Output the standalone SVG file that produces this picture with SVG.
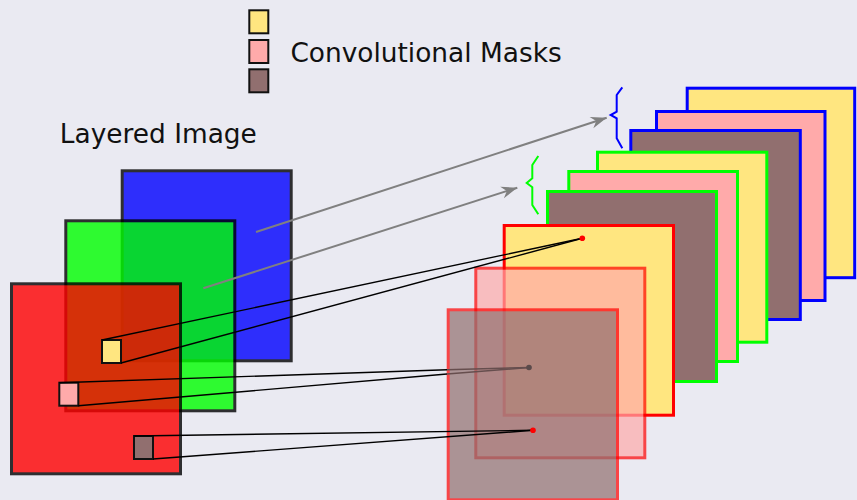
<svg xmlns="http://www.w3.org/2000/svg" width="857" height="500" viewBox="0 0 857 500">
  <defs>
    <style>
      .label { font-family: "DejaVu Sans", "Liberation Sans", sans-serif; font-size: 26.4px; fill: #111; }
      .layer { stroke: #000; stroke-width: 3; opacity: 0.8; }
      .mask { stroke: #111; stroke-width: 2; }
      .yellow { fill: #ffe680; }
      .pink { fill: #ffaaaa; }
      .brown { fill: #916f6f; }
      .sheet { stroke-width: 3; }
      .b { stroke: #0000ff; }
      .g { stroke: #00ff00; }
      .r { stroke: #ff0000; }
      .faded { opacity: 0.7; }
      .brace { fill: none; stroke-width: 2; }
      .arrow { fill: none; stroke: #808080; stroke-width: 2; marker-end: url(#head); }
      .link { fill: none; stroke: #000; stroke-width: 1.4; }
      .link-dim { fill: none; stroke: #664e4e; stroke-width: 1.4; }
    </style>
    <marker id="head" markerUnits="userSpaceOnUse" markerWidth="20" markerHeight="14" viewBox="-17 -7 18 14" refX="0" refY="0" orient="auto">
      <path d="M0,0 L-16,-6 L-11,0 L-16,6 Z" fill="#808080"/>
    </marker>
  </defs>

  <rect width="857" height="500" fill="#eaeaf2"/>

  <!-- legend -->
  <g id="legend">
    <rect class="mask yellow" x="249.3" y="10.3" width="19" height="23"/>
    <rect class="mask pink" x="249.3" y="40" width="19" height="23"/>
    <rect class="mask brown" x="249.3" y="69.3" width="19" height="23"/>
    <text class="label" x="290.4" y="61.5">Convolutional Masks</text>
  </g>

  <text id="title" class="label" x="59.8" y="143.3">Layered Image</text>

  <!-- input image, three colour layers -->
  <g id="layer-blue"><rect class="layer" x="122.2" y="170.8" width="169" height="190" fill="#0000ff"/></g>
  <g id="layer-green"><rect class="layer" x="65.8" y="220.8" width="169" height="190" fill="#00ff00"/></g>
  <g id="layer-red"><rect class="layer" x="11.5" y="283.8" width="169" height="190" fill="#ff0000"/></g>

  <!-- masks placed on the image -->
  <g id="mask-yellow"><rect class="mask yellow" x="102" y="340" width="19" height="23"/></g>
  <g id="mask-pink"><rect class="mask pink" x="59.3" y="382.7" width="19" height="23"/></g>
  <g id="mask-brown"><rect class="mask brown" x="134" y="436" width="19" height="23"/></g>

  <!-- feature maps for the blue layer -->
  <g id="blue-maps">
    <rect class="sheet b yellow" x="687.2" y="88.2" width="167.5" height="189.5"/>
    <rect class="sheet b pink" x="656.5" y="111.5" width="168.5" height="189"/>
    <rect class="sheet b brown" x="630.8" y="130.5" width="169.5" height="189"/>
    <polyline class="brace b" points="622.3,87.3 616.7,95 616.7,111.7 610.7,115 616.7,118.3 616.7,138.3 622.3,148.3"/>
  </g>

  <!-- feature maps for the green layer -->
  <g id="green-maps">
    <rect class="sheet g yellow" x="597.5" y="152.2" width="169.3" height="190"/>
    <rect class="sheet g pink" x="568.8" y="171.5" width="168.7" height="190"/>
    <rect class="sheet g brown" x="547.5" y="191.5" width="169" height="190"/>
    <polyline class="brace g" points="538.3,156 532.3,165 532.3,178.3 526.7,183 532.3,187.3 532.3,205 538.3,214.3"/>
  </g>

  <!-- feature maps for the red layer -->
  <g id="red-maps">
    <rect class="sheet r yellow" x="504.2" y="225.5" width="169.3" height="189.7"/>
    <rect class="sheet r pink faded" x="475.8" y="268.2" width="169" height="189.6"/>
    <rect class="sheet r brown faded" x="448.2" y="309.8" width="169.3" height="190"/>
  </g>

  <!-- connectors -->
  <g id="connectors">
    <line class="arrow" x1="256" y1="232" x2="606.7" y2="117.7"/>
    <line class="arrow" x1="203.3" y1="288.3" x2="517.3" y2="187.7"/>

    <line class="link" x1="102" y1="340" x2="582.3" y2="238.3"/>
    <line class="link" x1="121" y1="363" x2="582.3" y2="238.3"/>
    <circle cx="582.3" cy="238.3" r="2.8" fill="#ff0000"/>

    <line class="link" x1="59.3" y1="382.7" x2="447" y2="369.74"/>
    <line class="link-dim" x1="447" y1="369.74" x2="529" y2="367.5"/>
    <line class="link" x1="78.3" y1="405.7" x2="447" y2="374.04"/>
    <line class="link-dim" x1="447" y1="374.04" x2="529" y2="367.5"/>
    <circle cx="529" cy="367.5" r="2.8" fill="#5a4a4a"/>

    <line class="link" x1="134" y1="436" x2="533" y2="430.3"/>
    <line class="link" x1="153" y1="459" x2="533" y2="430.3"/>
    <circle cx="533" cy="430.3" r="2.8" fill="#ff0000"/>
  </g>
</svg>
